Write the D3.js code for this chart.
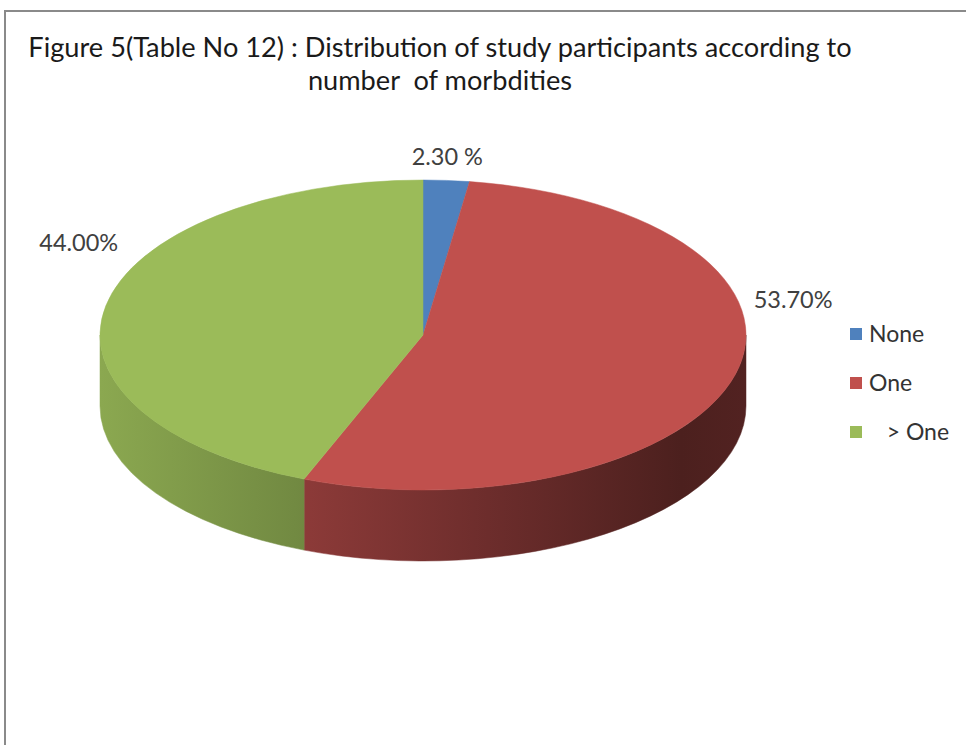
<!DOCTYPE html>
<html>
<head>
<meta charset="utf-8">
<script src="https://cdn.jsdelivr.net/npm/d3@7"></script>
<style>
  body { margin: 0; background: #fff; }
  svg { display: block; }
  text { font-family: Lato, "Open Sans", sans-serif; }
</style>
</head>
<body>
<svg id="chart" width="966" height="745"></svg>
<script>
// Data
const categories = ["None", "One", "> One"];
const values = [2.3, 53.7, 44.0];
const valueLabels = ["2.30 %", "53.70%", "44.00%"];
const legendLabels = ["None", "One", "   > One"];
const titleLines = [
  "Figure 5(Table No 12) : Distribution of study participants according to",
  "number  of morbdities"
];

// Styling
const colors = ["#4F81BD", "#C0504D", "#9BBB59"];
const labelNudge = [[1, -15], [58, -67], [-27, -55]];
// darkening of the pie wall, left to right
const wallShade = [[0, 0.3], [0.3, 0.85], [0.6, 1.6], [0.9, 2.6], [1, 2.4]];

const svg = d3.select("#chart");
const W = 966, H = 745;

svg.append("rect").attr("width", W).attr("height", H).attr("fill", "#fff");

// frame
svg.append("path")
  .attr("d", `M5,${H} L5,11 L${W},11`)
  .attr("fill", "none").attr("stroke", "#8a8a8a").attr("stroke-width", 2);

// title
svg.append("g").selectAll("text").data(titleLines).join("text")
  .attr("x", 440).attr("y", (d, i) => 57 + i * 33)
  .attr("text-anchor", "middle")
  .attr("font-size", 27.2).attr("fill", "#1a1a1a")
  .style("white-space", "pre")
  .text(d => d);

// pie geometry
const cx = 423, cy = 335, rx = 323, ry = 155, depth = 71;
const pie = d3.pie().sort(null).value(d => d).startAngle(0).endAngle(2 * Math.PI);
const arcs = pie(values);

const pt = (a, dy = 0) => [cx + rx * Math.sin(a), cy - ry * Math.cos(a) + dy];

const defs = svg.append("defs");
colors.forEach((c, i) => {
  const g = defs.append("linearGradient")
    .attr("id", "wall" + i)
    .attr("gradientUnits", "userSpaceOnUse")
    .attr("x1", cx - rx).attr("x2", cx + rx).attr("y1", 0).attr("y2", 0);
  wallShade.forEach(([o, k]) => {
    g.append("stop").attr("offset", o).attr("stop-color", d3.color(c).darker(k).formatHex());
  });
});

// side walls (front half only)
const front0 = Math.PI / 2, front1 = 3 * Math.PI / 2;
const walls = svg.append("g");
arcs.forEach((d, i) => {
  const s0 = Math.max(d.startAngle, front0);
  const s1 = Math.min(d.endAngle, front1);
  if (s1 <= s0) return;
  const p0 = pt(s0), p1 = pt(s1), q1 = pt(s1, depth), q0 = pt(s0, depth);
  const path = `M${p0} A${rx},${ry} 0 0 1 ${p1} L${q1} A${rx},${ry} 0 0 0 ${q0} Z`;
  walls.append("path").attr("d", path).attr("fill", `url(#wall${i})`)
    .attr("stroke", `url(#wall${i})`).attr("stroke-width", 0.5);
});

// top faces
const tops = svg.append("g");
arcs.forEach((d, i) => {
  const p0 = pt(d.startAngle), p1 = pt(d.endAngle);
  const large = d.endAngle - d.startAngle > Math.PI ? 1 : 0;
  const path = `M${cx},${cy} L${p0} A${rx},${ry} 0 ${large} 1 ${p1} Z`;
  tops.append("path").attr("d", path).attr("fill", colors[i])
    .attr("stroke", colors[i]).attr("stroke-width", 0.5);
});

// data labels
svg.append("g").selectAll("text").data(arcs).join("text")
  .attr("x", (d, i) => pt((d.startAngle + d.endAngle) / 2)[0] + labelNudge[i][0])
  .attr("y", (d, i) => pt((d.startAngle + d.endAngle) / 2)[1] + labelNudge[i][1])
  .attr("text-anchor", "middle")
  .attr("font-size", 23.5).attr("fill", "#404040")
  .text((d, i) => valueLabels[i]);

// legend
const legend = svg.append("g").attr("transform", "translate(850,328)");
const item = legend.selectAll("g").data(categories).join("g")
  .attr("transform", (d, i) => `translate(0,${i * 49})`);
item.append("rect").attr("width", 12).attr("height", 12)
  .attr("fill", (d, i) => colors[i]);
item.append("text").attr("x", 19).attr("y", 13.5)
  .attr("font-size", 23).attr("fill", "#333")
  .style("white-space", "pre")
  .text((d, i) => legendLabels[i]);
</script>
</body>
</html>
